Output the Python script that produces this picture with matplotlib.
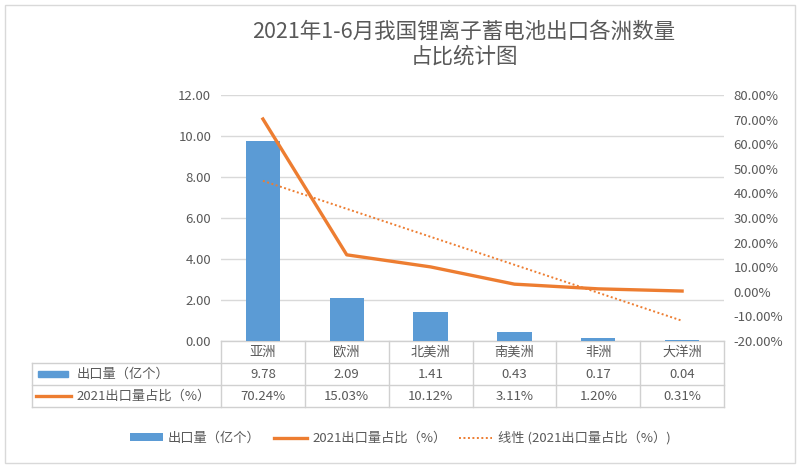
import numpy as np
import matplotlib.pyplot as plt
from matplotlib.lines import Line2D
from matplotlib.patches import Rectangle
from matplotlib.transforms import blended_transform_factory

regions = ["亚洲", "欧洲", "北美洲", "南美洲", "非洲", "大洋洲"]
exports = [9.78, 2.09, 1.41, 0.43, 0.17, 0.04]
share = [70.24, 15.03, 10.12, 3.11, 1.20, 0.31]
title = "2021年1-6月我国锂离子蓄电池出口各洲数量\n占比统计图"
bar_label = "出口量（亿个）"
line_label = "2021出口量占比（%）"
trend_label = "线性 (2021出口量占比（%）)"

plt.rcParams['font.family'] = ['Noto Sans CJK SC', 'DejaVu Sans']
BLUE = "#5B9BD5"
ORANGE = "#ED7D31"
GRAY = "#595959"
LINE = "#D0D0D0"

W, H = 800, 468
fig = plt.figure(figsize=(W / 100, H / 100), dpi=100)


def fy(py):
    # pixel row from top -> figure fraction
    return 1 - py / H


# chart border
fig.add_artist(Rectangle((5 / W, fy(463)), 790 / W, 458 / H,
                         transform=fig.transFigure, fill=False,
                         edgecolor="#D9D9D9", lw=1))

x0, x1, y_top, y_bot = 221, 724, 95, 341
ax = fig.add_axes([x0 / W, fy(y_bot), (x1 - x0) / W, (y_bot - y_top) / H])
x = np.arange(len(regions))
bars = ax.bar(x, exports, width=0.41, color=BLUE, zorder=3)
ax.set_xlim(-0.5, len(regions) - 0.5)
ax.set_ylim(0, 12)
ax.set_yticks(np.arange(0, 12.01, 2))
ax.set_yticklabels([f"{v:.2f}" for v in np.arange(0, 12.01, 2)])
ax.yaxis.grid(True, color="#D9D9D9", lw=1, zorder=0)
ax.set_xticks([])
for s in ax.spines.values():
    s.set_visible(False)
ax.tick_params(axis='y', length=0, pad=7, labelsize=9.5, labelcolor=GRAY)

ax2 = ax.twinx()
line, = ax2.plot(x, share, color=ORANGE, lw=2.4, zorder=4,
                 solid_joinstyle='round')
# Excel linear trendline of the share series
k, b = np.polyfit(x, share, 1)
trend, = ax2.plot(x, k * x + b, color=ORANGE, lw=1.4, ls=(0, (1, 1.3)))
ax2.set_ylim(-20, 80)
ticks2 = np.arange(-20, 80.01, 10)
ax2.set_yticks(ticks2)
ax2.set_yticklabels([f"{v:.2f}%" for v in ticks2])
for s in ax2.spines.values():
    s.set_visible(False)
ax2.tick_params(axis='y', length=0, pad=7, labelsize=9.5, labelcolor=GRAY)

fig.text(464 / W, fy(44), title, ha='center', va='center', fontsize=15.5,
         color=GRAY, linespacing=1.15)

# data table below the plot
tr = blended_transform_factory(ax.transData, fig.transFigure)
rows = [341, 363, 385, 407]
tl = 32
ax.plot([-0.5, len(regions) - 0.5], [fy(rows[0])] * 2, transform=tr,
        color=LINE, lw=1, clip_on=False)
for py in rows[1:]:
    fig.add_artist(Line2D([tl / W, x1 / W], [fy(py)] * 2,
                          color=LINE, lw=1))
for i in range(len(regions) + 1):
    ax.plot([i - 0.5] * 2, [fy(rows[0]), fy(rows[-1])], transform=tr,
            color=LINE, lw=1, clip_on=False)
fig.add_artist(Line2D([tl / W] * 2, [fy(rows[1]), fy(rows[-1])],
                      color=LINE, lw=1))

for i, name in enumerate(regions):
    ax.text(i, fy(352), name, transform=tr, ha='center', va='center',
            fontsize=9.5, color=GRAY)
    ax.text(i, fy(374), f"{exports[i]:.2f}", transform=tr, ha='center',
            va='center', fontsize=9.5, color=GRAY)
    ax.text(i, fy(396), f"{share[i]:.2f}%", transform=tr, ha='center',
            va='center', fontsize=9.5, color=GRAY)

fig.add_artist(Rectangle((38 / W, fy(377)), 30 / W, 6 / H,
                         transform=fig.transFigure, color=BLUE))
fig.text(77 / W, fy(374), bar_label, ha='left', va='center',
         fontsize=9.5, color=GRAY)
fig.add_artist(Line2D([36 / W, 71 / W], [fy(396)] * 2, color=ORANGE, lw=2.4))
fig.text(76 / W, fy(396), line_label, ha='left', va='center',
         fontsize=9.5, color=GRAY)

fig.legend([bars, line, trend], [bar_label, line_label, trend_label],
           loc='center', bbox_to_anchor=(0.5, fy(438)), ncol=3,
           frameon=False, fontsize=9.5, labelcolor=GRAY,
           handlelength=2.5, handleheight=0.5, columnspacing=1.0,
           handletextpad=0.4)

fig.savefig("out.png", dpi=100)
